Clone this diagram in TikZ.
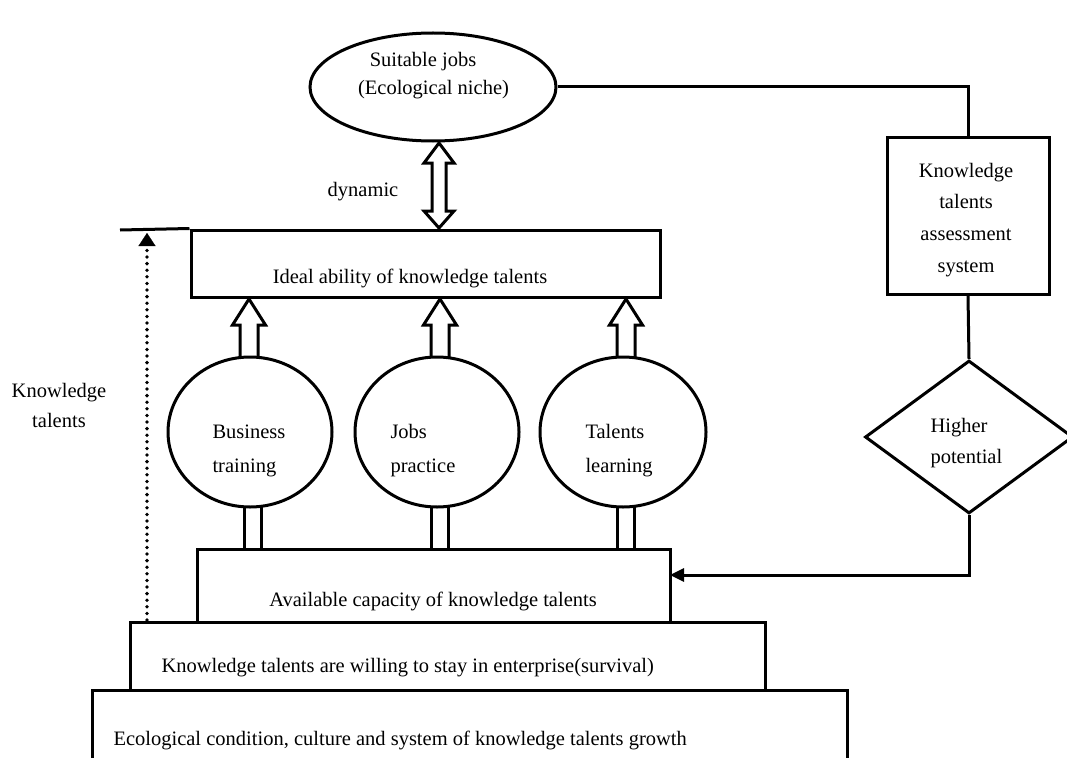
\documentclass[tikz,border=0pt]{standalone}
\usepackage{fontspec}
\setmainfont{Liberation Serif}
\usetikzlibrary{shapes.geometric,arrows.meta}
\begin{document}
\begin{tikzpicture}[x=1pt,y=-1pt,
  line width=3pt,
  box/.style={draw, rectangle, inner sep=0pt, fill=white},
  oval/.style={draw, ellipse, inner sep=0pt, fill=white},
  lbl/.style={inner sep=0pt, font=\fontsize{20.5}{30}\selectfont},
  hollow/.style={draw, line width=3pt, line join=miter},
  dots/.style={line width=3.8pt, line cap=round, dash pattern=on 0pt off 6.6pt},
]
\path[use as bounding box] (0,0) rectangle (1067,757);
\clip (0,0) rectangle (1067,757);

% stacked base boxes
\node[box, minimum width=755pt, minimum height=90pt] (eco) at (469.5,735) {};
\node[box, minimum width=635pt, minimum height=68pt] (will) at (447.5,656) {};
\node[box, minimum width=473pt, minimum height=73pt] (avail) at (433.5,585.5) {};
\node[lbl, anchor=base west] (ecoT) at (112,745) {Ecological condition, culture and system of knowledge talents growth};
\node[lbl, anchor=base west] (willT) at (160,672) {Knowledge talents are willing to stay in enterprise(survival)};
\node[lbl, anchor=base] (availT) at (433,606) {Available capacity of knowledge talents};

% ideal box
\node[box, minimum width=469pt, minimum height=67pt] (ideal) at (425.5,263.5) {};
\node[lbl, anchor=base] (idealT) at (410,283) {Ideal ability of knowledge talents};
\coordinate (ltop) at (120,230);
\draw (ltop) -- (ideal.north west);

% dotted arrow
\coordinate (dotbot) at (147,620);
\coordinate (dottop) at (147,233);
\draw[dots] (dotbot) -- ([yshift=-12pt]dottop);
\draw[line width=0.1pt, -{Triangle[length=13pt,width=17pt]}] ([yshift=-12pt]dottop) -- (dottop);
\node[lbl, anchor=base] (kt1) at (59,397) {Knowledge};
\node[lbl, anchor=base] (kt2) at (59,427) {talents};

% small rectangles under ellipses
\foreach \x in {253,440,626}{
  \draw (\x-8.5,500) rectangle (\x+8.5,549);
}
% up arrows
\foreach \x in {249,440,626}{
  \draw[hollow] (\x-9,362) -- (\x-9,325) -- (\x-16.5,325) -- (\x,299) -- (\x+16.5,325) -- (\x+9,325) -- (\x+9,362);
}
% ellipses
\node[oval, minimum width=164pt, minimum height=150pt] (bus) at (250,432) {};
\node[oval, minimum width=164pt, minimum height=150pt] (prac) at (437,432) {};
\node[oval, minimum width=166pt, minimum height=150pt] (learn) at (623,432) {};
\node[lbl, anchor=base west] (busT1) at (211,438) {Business};
\node[lbl, anchor=base west] (busT2) at (211,472) {training};
\node[lbl, anchor=base west] (pracT1) at (389,438) {Jobs};
\node[lbl, anchor=base west] (pracT2) at (389,472) {practice};
\node[lbl, anchor=base west] (learnT1) at (584,438) {Talents};
\node[lbl, anchor=base west] (learnT2) at (584,472) {learning};

% top ellipse
\node[oval, minimum width=246pt, minimum height=108pt] (jobs) at (433,87) {};
\node[lbl, anchor=base] (jobsT1) at (423,67) {Suitable jobs};
\node[lbl, anchor=base] (jobsT2) at (433.5,95) {(Ecological niche)};

% dynamic double arrow
\draw[hollow] (439,143) -- (454,163) -- (446,163) -- (446,211) -- (454,211) -- (439,228)
  -- (424,211) -- (432,211) -- (432,163) -- (424,163) -- cycle;
\node[lbl, anchor=base] (dynT) at (363,196) {dynamic};

% assessment box
\node[box, minimum width=162pt, minimum height=157pt] (assess) at (968,215.5) {};
\node[lbl, anchor=base] (aT1) at (966,177) {Knowledge};
\node[lbl, anchor=base] (aT2) at (966,208) {talents};
\node[lbl, anchor=base] (aT3) at (966,240) {assessment};
\node[lbl, anchor=base] (aT4) at (966,272) {system};
\draw (jobs.east) -| (assess.north);

% diamond
\node[draw, diamond, inner sep=0pt, minimum width=208pt, minimum height=153pt] (pot) at (969,437) {};
\node[lbl, anchor=base west] (pT1) at (929,432) {Higher};
\node[lbl, anchor=base west] (pT2) at (929,463) {potential};
\draw (assess.south) -- (pot.north);
\coordinate (ain) at (670,575);
\draw[-{Triangle[length=14pt,width=13pt]}] (pot.south) |- (ain);
\end{tikzpicture}
\end{document}
